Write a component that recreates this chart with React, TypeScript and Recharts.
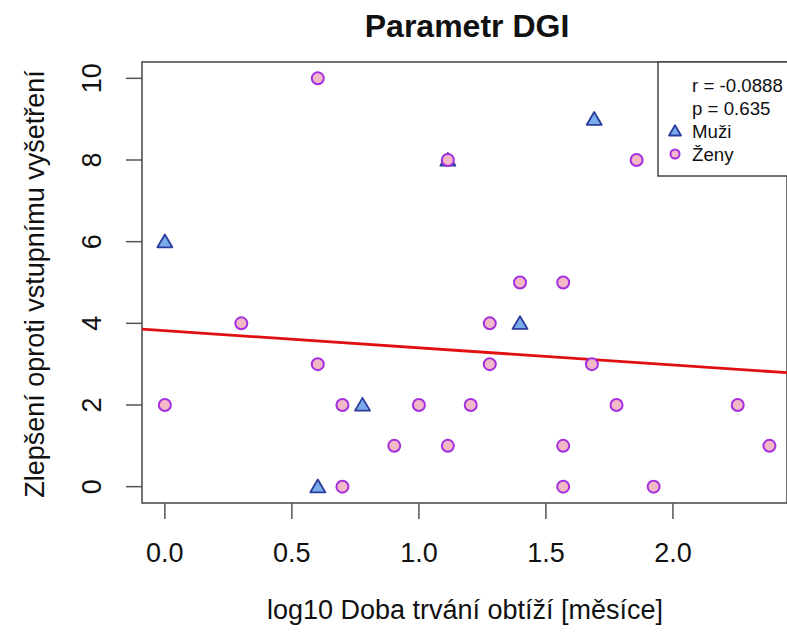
import { ScatterChart, Scatter, XAxis, YAxis, ReferenceLine, ReferenceArea } from 'recharts';

// log10 of complaint duration (months) vs. improvement score
const menX = [0, 0.602, 0.778, 1.114, 1.398, 1.69];
const menY = [6, 0, 2, 8, 4, 9];

const womenX = [
  0.602, 1.114, 1.857, 1.398, 1.568, 0.301, 1.279, 0.602, 1.279, 1.681, 0, 0.699,
  1, 1.204, 1.778, 2.255, 0.903, 1.114, 1.568, 2.38, 0.699, 1.568, 1.924,
];
const womenY = [10, 8, 8, 5, 5, 4, 4, 3, 3, 3, 2, 2, 2, 2, 2, 2, 1, 1, 1, 1, 0, 0, 0];

const xTicks = [0, 0.5, 1, 1.5, 2];
const yTicks = [0, 2, 4, 6, 8, 10];
const xDomain = [-0.09, 2.449];
const yDomain = [-0.4, 10.4];

// linear fit shown in red
const fitIntercept = 3.82;
const fitSlope = -0.42;

const legendLines = ['r = -0.0888', 'p = 0.635'];
const groupNames = ['Muži', 'Ženy'];

const men = menX.map((x, i) => ({ x, y: menY[i] }));
const women = womenX.map((x, i) => ({ x, y: womenY[i] }));
const fitSegment = xDomain.map((x) => ({ x, y: fitIntercept + fitSlope * x }));

const FONT = '"Liberation Sans", Arial, Helvetica, sans-serif';
const TRI_FILL = '#78acea';
const TRI_STROKE = '#2c3c9c';
const DOT_FILL = '#f2b8c6';
const DOT_STROKE = '#a42ee0';

const Triangle = ({ cx, cy, s = 7.5 }: any) => (
  <polygon
    points={`${cx},${cy - s * 0.95} ${cx - s},${cy + s * 0.75} ${cx + s},${cy + s * 0.75}`}
    fill={TRI_FILL}
    stroke={TRI_STROKE}
    strokeWidth={1.8}
    strokeLinejoin="round"
  />
);

const Dot = ({ cx, cy, r = 6 }: any) => (
  <circle cx={cx} cy={cy} r={r} fill={DOT_FILL} stroke={DOT_STROKE} strokeWidth={2} />
);

const YTick = ({ x, y, payload }: any) => (
  <text
    x={x}
    y={y}
    transform={`rotate(-90 ${x} ${y})`}
    textAnchor="middle"
    fontFamily={FONT}
    fontSize={27}
    fill="#111"
  >
    {payload.value}
  </text>
);

export default function App() {
  return (
    <div style={{ position: 'absolute', left: 0, top: 0, width: 787, height: 635, background: '#fff' }}>
      <ScatterChart
        width={787}
        height={635}
        margin={{ top: 62, right: 0, bottom: 72, left: 82 }}
      >
        <XAxis
          type="number"
          dataKey="x"
          domain={xDomain}
          ticks={xTicks}
          allowDataOverflow
          height={60}
          tickSize={16}
          tickMargin={24}
          axisLine={false}
          tickLine={{ stroke: '#555', strokeWidth: 1.5 }}
          tickFormatter={(v: number) => v.toFixed(1)}
          tick={{ fill: '#111', fontSize: 27, fontFamily: FONT }}
        />
        <YAxis
          type="number"
          dataKey="y"
          domain={yDomain}
          ticks={yTicks}
          allowDataOverflow
          width={60}
          tickSize={16}
          tickMargin={25}
          axisLine={false}
          tickLine={{ stroke: '#555', strokeWidth: 1.5 }}
          tick={<YTick />}
        />
        <ReferenceArea
          x1={xDomain[0]}
          x2={xDomain[1]}
          y1={yDomain[0]}
          y2={yDomain[1]}
          fill="none"
          fillOpacity={0}
          stroke="#444"
          strokeWidth={1.5}
        />
        <Scatter data={men} shape={<Triangle />} isAnimationActive={false} />
        <Scatter data={women} shape={<Dot />} isAnimationActive={false} />
        <ReferenceLine
          segment={fitSegment}
          stroke="#e01010"
          strokeWidth={2.8}
          ifOverflow="hidden"
        />
      </ScatterChart>

      <svg
        width={787}
        height={635}
        style={{ position: 'absolute', left: 0, top: 0, pointerEvents: 'none' }}
      >
        <text x={467} y={26} textAnchor="middle" dominantBaseline="central" fontFamily={FONT} fontSize={32} fontWeight="bold" fill="#111">
          Parametr DGI
        </text>
        <text x={465} y={610} textAnchor="middle" dominantBaseline="central" fontFamily={FONT} fontSize={27} fill="#111">
          log10 Doba trvání obtíží [měsíce]
        </text>
        <text
          x={35}
          y={284}
          transform="rotate(-90 35 284)"
          textAnchor="middle"
          dominantBaseline="central"
          fontFamily={FONT}
          fontSize={27}
          fill="#111"
        >
          Zlepšení oproti vstupnímu vyšetření
        </text>

        <rect x={658} y={62} width={140} height={114} fill="#fff" stroke="#444" strokeWidth={1.5} />
        {legendLines.map((t, i) => (
          <text key={t} x={692} y={85 + i * 23} dominantBaseline="central" fontFamily={FONT} fontSize={18.7} fill="#111">
            {t}
          </text>
        ))}
        {groupNames.map((t, i) => (
          <text key={t} x={692} y={131 + i * 23} dominantBaseline="central" fontFamily={FONT} fontSize={18.7} fill="#111">
            {t}
          </text>
        ))}
        <Triangle cx={675} cy={131} s={6} />
        <Dot cx={675} cy={154} r={4.5} />
      </svg>
    </div>
  );
}
